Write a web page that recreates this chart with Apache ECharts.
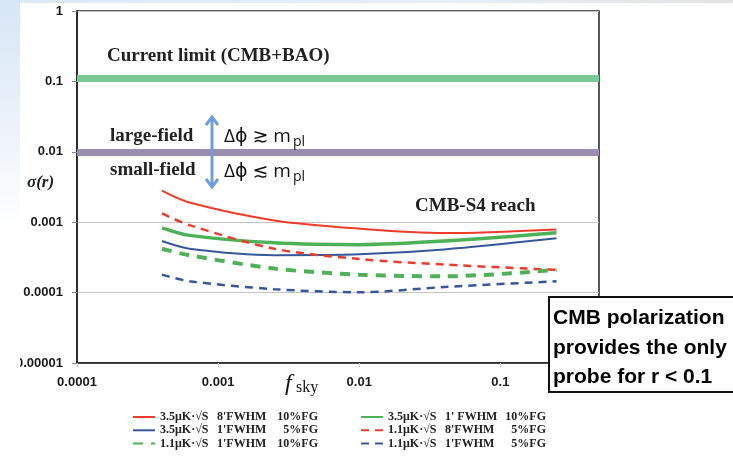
<!DOCTYPE html>
<html>
<head>
<meta charset="utf-8">
<script src="https://cdn.jsdelivr.net/npm/echarts@6/dist/echarts.min.js"></script>
<style>html,body{margin:0;padding:0;background:#fff;}#c{width:733px;height:464px;}</style>
</head>
<body>
<div id="c"></div>
<script>
// ---- data ----
const fsky = [0.0004, 0.000625, 0.0025, 0.01, 0.04, 0.25];
const redSolid    = [0.0028, 0.0019, 0.00106, 0.00081, 0.00070, 0.00079];
const greenSolid  = [0.00083, 0.00065, 0.00051, 0.00048, 0.00054, 0.00071];
const blueSolid   = [0.00054, 0.00042, 0.00034, 0.00035, 0.00041, 0.00059];
const redDashed   = [0.00133, 0.00091, 0.00042, 0.00030, 0.00025, 0.00021];
const greenDashed = [0.00042, 0.00034, 0.00022, 0.00018, 0.00017, 0.00021];
const blueDashed  = [0.00018, 0.000145, 0.000112, 0.000101, 0.00012, 0.000145];
const legendParts = [
  ['3.5μK·√S', "8'FWHM", '10%FG'],
  ['3.5μK·√S', "1' FWHM", '10%FG'],
  ['3.5μK·√S', "1'FWHM", '5%FG'],
  ['1.1μK·√S', "8'FWHM", '5%FG'],
  ['1.1μK·√S', "1'FWHM", '10%FG'],
  ['1.1μK·√S', "1'FWHM", '5%FG']
];
const xTickLabels = ['0.0001', '0.001', '0.01', '0.1'];
const yTickLabels = ['0.00001', '0.0001', '0.001', '0.01', '0.1', '1'];
const bandValues = [0.112, 0.01]; // current limit, large/small field divide

const seriesValues = [redSolid, greenSolid, blueSolid, redDashed, greenDashed, blueDashed];
const seriesStyle = [
  {color: '#ec3c2a', width: 2, type: 'solid'},
  {color: '#4db257', width: 3.5, type: 'solid'},
  {color: '#34589a', width: 2, type: 'solid'},
  {color: '#ec3c2a', width: 2.5, type: [8, 6]},
  {color: '#4db257', width: 4, type: [10, 8]},
  {color: '#34589a', width: 2.5, type: [8, 6]}
];
const names = legendParts.map(p => p.join(' '));

function decadeLabel(v, labels, minExp) {
  const e = Math.log10(v);
  const r = Math.round(e);
  if (Math.abs(e - r) > 1e-6) return '';
  return labels[r - minExp] || '';
}

const series = seriesValues.map((vals, i) => ({
  name: names[i],
  type: 'line',
  data: fsky.map((x, j) => [x, vals[j]]),
  smooth: 0.3,
  symbol: 'none',
  lineStyle: {color: seriesStyle[i].color, width: seriesStyle[i].width, type: seriesStyle[i].type},
  itemStyle: {color: seriesStyle[i].color},
  z: 3
}));
series[0].markLine = {
  silent: true,
  symbol: ['none', 'none'],
  label: {show: false},
  z: 2,
  data: [
    {yAxis: bandValues[0], lineStyle: {color: '#79c997', width: 7, type: 'solid'}},
    {yAxis: bandValues[1], lineStyle: {color: '#9b8db2', width: 7, type: 'solid'}}
  ]
};

const serifB = 'bold 19px "Liberation Serif", "Times New Roman", serif';
const legendRich = {
  a: {width: 57, fontFamily: 'Liberation Serif', fontWeight: 'bold', fontSize: 12, color: '#222', lineHeight: 12},
  b: {width: 52, fontFamily: 'Liberation Serif', fontWeight: 'bold', fontSize: 12, color: '#222', lineHeight: 12},
  c: {width: 49, align: 'right', fontFamily: 'Liberation Serif', fontWeight: 'bold', fontSize: 12, color: '#222', lineHeight: 12}
};
function legendFmt(name) {
  const p = legendParts[names.indexOf(name)];
  return '{a|' + p[0] + '}{b|' + p[1] + '}{c|' + p[2] + '}';
}
const legendBase = {
  orient: 'vertical', top: 406, itemGap: 1.3, itemWidth: 22, itemHeight: 12,
  selectedMode: false, formatter: legendFmt,
  itemStyle: {opacity: 0},
  textStyle: {fontFamily: 'Liberation Serif', fontWeight: 'bold', fontSize: 12, color: '#222', rich: legendRich}
};

const chart = echarts.init(document.getElementById('c'), null, {renderer: 'canvas'});
chart.setOption({
  animation: false,
  backgroundColor: '#ffffff',
  grid: {left: 77, right: 134, top: 11, bottom: 101, containLabel: false, outerBoundsMode: 'none',
         show: true, borderColor: '#222', borderWidth: 1.5, backgroundColor: 'transparent'},
  legend: [
    Object.assign({}, legendBase, {left: 127, data: [names[0], names[2], names[4]]}),
    Object.assign({}, legendBase, {left: 355, data: [names[1], names[3], names[5]]})
  ],
  xAxis: {
    type: 'log', logBase: 10, min: 0.0001, max: 0.5,
    axisLine: {show: true, lineStyle: {color: '#222', width: 1.5}},
    axisTick: {show: true, length: 4, lineStyle: {color: '#ccc'}},
    splitLine: {show: false},
    minorTick: {show: false},
    axisLabel: {
      margin: 13, color: '#1a1a1a', fontWeight: 'bold', fontSize: 13,
      fontFamily: 'Liberation Sans, Arial, sans-serif',
      formatter: v => decadeLabel(v, xTickLabels, -4)
    }
  },
  yAxis: {
    type: 'log', logBase: 10, min: 0.00001, max: 1,
    axisLine: {show: true, lineStyle: {color: '#222', width: 1.5}},
    axisTick: {show: true, length: 5, lineStyle: {color: '#888'}},
    splitLine: {show: true, lineStyle: {color: '#c4c4c4', width: 1}},
    axisLabel: {
      margin: 14, color: '#1a1a1a', fontWeight: 'bold', fontSize: 13,
      fontFamily: 'Liberation Sans, Arial, sans-serif',
      formatter: v => decadeLabel(v, yTickLabels, -5)
    }
  },
  series: series,
  graphic: [
    // slide background bits
    {type: 'rect', shape: {x: 0, y: 0, width: 733, height: 3}, z: 100,
     style: {fill: new echarts.graphic.LinearGradient(0, 0, 1, 0, [{offset: 0, color: '#dbe8f6'}, {offset: 0.6, color: '#e6eef7'}, {offset: 1, color: '#e2e2e2'}])}},
    {type: 'rect', shape: {x: 0, y: 0, width: 20, height: 380}, z: 100,
     style: {fill: new echarts.graphic.LinearGradient(0, 0, 0, 1, [{offset: 0, color: '#d6e6f6'}, {offset: 0.35, color: '#edf3fa'}, {offset: 0.6, color: '#ffffff'}, {offset: 1, color: '#ffffff'}])}},
    // y axis name
    {type: 'text', x: 27, y: 183, z: 50, style: {text: 'σ(r)', font: 'italic bold 17px "Liberation Serif", serif', fill: '#222', verticalAlign: 'middle'}},
    // annotations
    {type: 'text', x: 107, y: 56.5, z: 50, style: {text: 'Current limit (CMB+BAO)', font: serifB, fill: '#222', verticalAlign: 'middle'}},
    {type: 'text', x: 110, y: 136, z: 50, style: {text: 'large-field', font: serifB, fill: '#222', verticalAlign: 'middle'}},
    {type: 'text', x: 110, y: 170.5, z: 50, style: {text: 'small-field', font: serifB, fill: '#222', verticalAlign: 'middle'}},
    {type: 'text', x: 415, y: 206, z: 50, style: {text: 'CMB-S4 reach', font: serifB, fill: '#222', verticalAlign: 'middle'}},
    {type: 'text', x: 224, y: 137, z: 50, style: {text: 'Δϕ ≳ m', font: '19px "Open Sans", "DejaVu Sans", sans-serif', fill: '#111', verticalAlign: 'middle'}},
    {type: 'text', x: 293, y: 142, z: 50, style: {text: 'pl', font: '14px "Open Sans", "DejaVu Sans", sans-serif', fill: '#111', verticalAlign: 'middle'}},
    {type: 'text', x: 224, y: 172, z: 50, style: {text: 'Δϕ ≲ m', font: '19px "Open Sans", "DejaVu Sans", sans-serif', fill: '#111', verticalAlign: 'middle'}},
    {type: 'text', x: 293, y: 177, z: 50, style: {text: 'pl', font: '14px "Open Sans", "DejaVu Sans", sans-serif', fill: '#111', verticalAlign: 'middle'}},
    // double arrow
    {type: 'line', z: 50, shape: {x1: 212, y1: 118, x2: 212, y2: 186}, style: {stroke: '#6d9fd6', lineWidth: 3}},
    {type: 'polyline', z: 50, shape: {points: [[206, 125], [212, 117], [218, 125]]}, style: {stroke: '#6d9fd6', lineWidth: 3, fill: null}},
    {type: 'polyline', z: 50, shape: {points: [[206, 179], [212, 187], [218, 179]]}, style: {stroke: '#6d9fd6', lineWidth: 3, fill: null}},
    // x axis name f_sky
    {type: 'text', x: 285, y: 384, z: 50, style: {text: 'f', font: 'italic 24px "Liberation Serif", serif', fill: '#111', verticalAlign: 'middle'}},
    {type: 'text', x: 296, y: 388, z: 50, style: {text: 'sky', font: '16px "Liberation Serif", serif', fill: '#111', verticalAlign: 'middle'}},
    // callout box
    {type: 'rect', z: 60, shape: {x: 549, y: 297, width: 200, height: 95}, style: {fill: '#fff', stroke: '#111', lineWidth: 2}},
    {type: 'text', x: 553, y: 318, z: 61, style: {text: 'CMB polarization', font: 'bold 21px "Liberation Sans", Arial, sans-serif', fill: '#000', verticalAlign: 'middle'}},
    {type: 'text', x: 553, y: 348, z: 61, style: {text: 'provides the only', font: 'bold 21px "Liberation Sans", Arial, sans-serif', fill: '#000', verticalAlign: 'middle'}},
    {type: 'text', x: 553, y: 377, z: 61, style: {text: 'probe for r < 0.1', font: 'bold 21px "Liberation Sans", Arial, sans-serif', fill: '#000', verticalAlign: 'middle'}}
  ]
});
</script>
</body>
</html>
